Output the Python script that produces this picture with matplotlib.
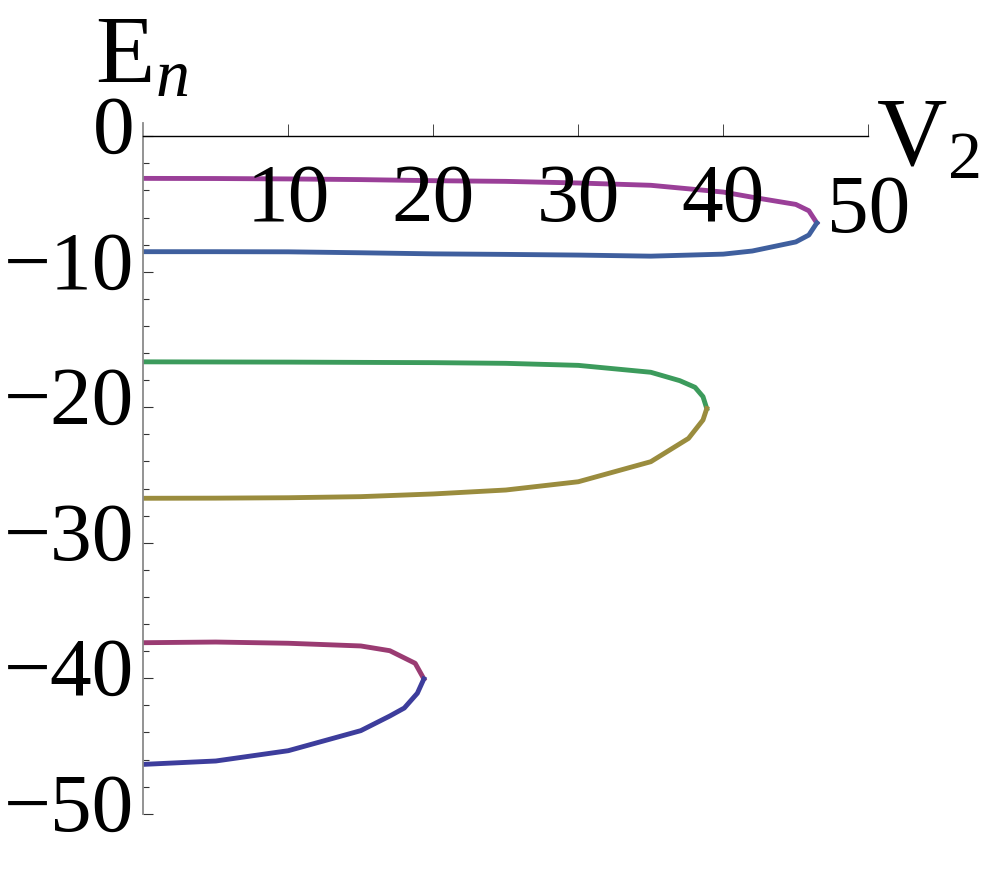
import matplotlib
matplotlib.use('Agg')
import matplotlib.pyplot as plt
from matplotlib.ticker import MultipleLocator

plt.rcParams['font.family'] = ['Liberation Serif', 'DejaVu Serif']
plt.rcParams['mathtext.fontset'] = 'custom'
plt.rcParams['mathtext.rm'] = 'Liberation Serif'
plt.rcParams['mathtext.it'] = 'Liberation Serif:italic'

# branches of E_n(V_2); upper and lower meet at the turning point
v_top_up = [0, 5, 10, 15, 20, 25, 30, 35, 40, 42, 45, 45.9, 46.45]
e_top_up = [-3.11, -3.12, -3.15, -3.2, -3.28, -3.33, -3.45, -3.62, -4.12, -4.5, -5.03, -5.5, -6.4]
v_top_lo = [0, 5, 10, 15, 20, 25, 30, 35, 40, 42, 45, 45.9, 46.45]
e_top_lo = [-8.52, -8.52, -8.53, -8.6, -8.68, -8.72, -8.77, -8.85, -8.7, -8.47, -7.8, -7.29, -6.4]

v_mid_up = [0, 5, 10, 15, 20, 25, 30, 35, 37, 38.05, 38.6, 38.86]
e_mid_up = [-16.65, -16.66, -16.67, -16.69, -16.71, -16.76, -16.91, -17.42, -18.04, -18.53, -19.22, -20.1]
v_mid_lo = [0, 5, 10, 15, 20, 25, 30, 35, 37.6, 38.6, 38.86]
e_mid_lo = [-26.72, -26.71, -26.68, -26.6, -26.4, -26.11, -25.5, -24.02, -22.3, -20.94, -20.1]

v_bot_up = [0, 5, 10, 15, 17, 18.75, 19.35]
e_bot_up = [-37.38, -37.33, -37.42, -37.62, -37.97, -38.9, -40.05]
v_bot_lo = [0, 5, 10, 15, 17, 18, 18.9, 19.35]
e_bot_lo = [-46.36, -46.11, -45.35, -43.87, -42.79, -42.2, -41.11, -40.05]

x_ticks = [10, 20, 30, 40, 50]
y_ticks = [0, -10, -20, -30, -40, -50]

fig = plt.figure(figsize=(9.81, 8.74), dpi=100)
ax = fig.add_axes([143.3 / 981, 60.3 / 874, 725 / 981, 691 / 874])

lw = 3.5
ax.plot(v_top_up, e_top_up, color='#9a3f98', lw=lw)
ax.plot(v_top_lo, e_top_lo, color='#3f5f9e', lw=lw)
ax.plot(v_mid_up, e_mid_up, color='#3c9b5c', lw=lw)
ax.plot(v_mid_lo, e_mid_lo, color='#9a8c3e', lw=lw)
ax.plot(v_bot_up, e_bot_up, color='#9a3b72', lw=lw)
ax.plot(v_bot_lo, e_bot_lo, color='#3d3d9c', lw=lw)

ax.set_xlim(0, 50)
ax.set_ylim(-50, 1.0)

# axes cross at the origin, x axis along E = 0
for s in ['right', 'bottom']:
    ax.spines[s].set_visible(False)
ax.spines['top'].set_position(('data', 0))
ax.spines['top'].set_linewidth(1.0)
ax.spines['left'].set_color('#8a8a8a')
ax.spines['left'].set_linewidth(1.3)

ax.xaxis.set_ticks_position('top')
ax.set_xticks(x_ticks)
ax.tick_params(axis='x', direction='out', length=9, width=0.7, color='#444444',
               labeltop=False, labelbottom=False)
ax.set_yticks(y_ticks)
ax.yaxis.set_minor_locator(MultipleLocator(2))
ax.tick_params(axis='y', which='major', direction='in', length=7.5, width=0.8,
               color='#333333', labelleft=False)
ax.tick_params(axis='y', which='minor', direction='in', length=4.5, width=0.8,
               color='#333333')

fs = 60
for v in x_ticks:
    drop = 96 if v == x_ticks[-1] else 85
    ax.annotate(str(v), xy=(v, 0), xytext=(0, -drop), textcoords='offset pixels',
                ha='center', va='baseline', fontsize=fs, annotation_clip=False)
for v in y_ticks:
    lab = str(v).replace('-', '\u2212')
    ax.annotate(lab, xy=(0, v), xytext=(-9, -17), textcoords='offset pixels',
                ha='right', va='baseline', fontsize=fs, annotation_clip=False)

ax.annotate(r'$\mathrm{E}_{n}$', xy=(0, 0), xytext=(-2, 54), textcoords='offset pixels',
            ha='center', va='baseline', fontsize=70, annotation_clip=False)
ax.annotate(r'$\mathrm{V}_{2}$', xy=(50, 0), xytext=(111, -29), textcoords='offset pixels',
            ha='right', va='baseline', fontsize=70, annotation_clip=False)

fig.savefig('out.png', dpi=100)
